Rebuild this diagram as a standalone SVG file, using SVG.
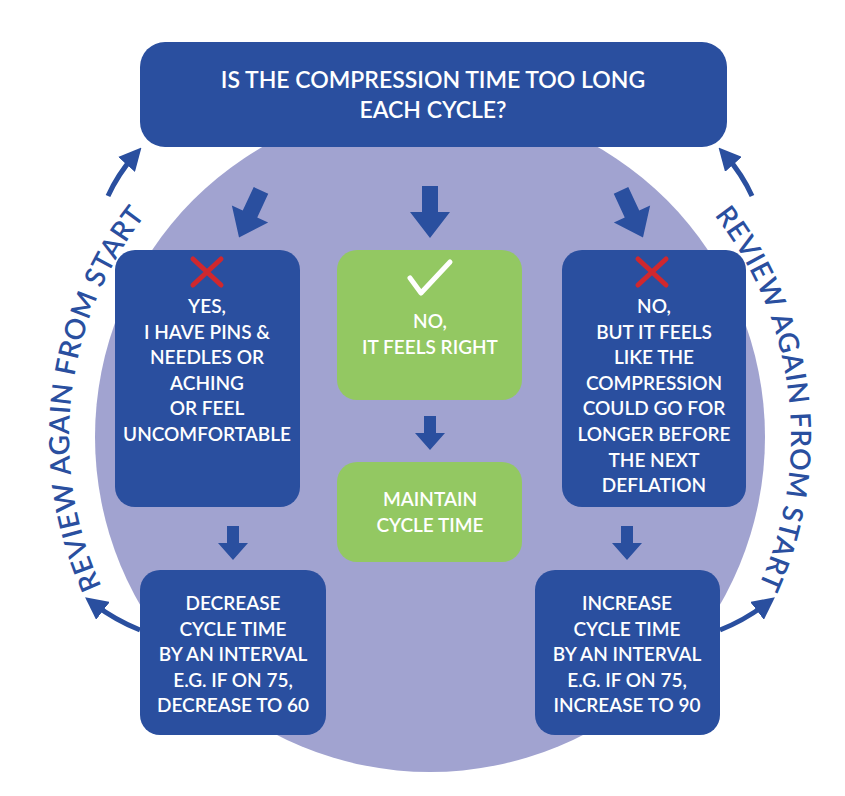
<svg xmlns="http://www.w3.org/2000/svg" width="845" height="796" viewBox="0 0 845 796">
<defs>
<style>
.b{fill:#2a4f9f}.g{fill:#93c862}
.t{font-family:Lato,"Open Sans",sans-serif;font-size:19px;font-weight:600;fill:#fff;text-anchor:middle}
.h{font-size:23px}
.c{font-family:Lato,"Open Sans",sans-serif;font-size:28px;font-weight:600;fill:#2a4f9f;letter-spacing:0.6px}
.ln{stroke:#2a4f9f;stroke-width:5;fill:none}
</style>
<marker id="ah" viewBox="0 0 10 10" refX="5" refY="5" markerWidth="4.5" markerHeight="4.5" orient="auto"><path d="M0,0L10,5L0,10Z" fill="#2a4f9f"/></marker>
<path id="big" d="M-8,-26H8V0H20L0,26L-20,0H-8Z" fill="#2a4f9f"/>
<path id="sm" d="M-6,-17H6V0H15L0,17L-15,0H-6Z" fill="#2a4f9f"/>
<path id="lp" d="M175,692A360,360 0 0 1 175,182"/>
<path id="rp" d="M685,182A360,360 0 0 1 685,692"/>
</defs>
<rect width="845" height="796" fill="#fff"/>
<circle cx="430" cy="437" r="335" fill="#a1a3d0"/>
<g id="connectors">
<use href="#big" transform="translate(250,214) rotate(25)"/>
<use href="#big" x="430" y="212"/>
<use href="#big" transform="translate(632,214) rotate(-25)"/>
<use href="#sm" x="233" y="543"/>
<use href="#sm" x="430" y="433"/>
<use href="#sm" x="627" y="543"/>
<path class="ln" d="M108,196Q118,174 134,156" marker-end="url(#ah)"/>
<path class="ln" d="M140,630Q115,620 94,604" marker-end="url(#ah)"/>
<path class="ln" d="M752,196Q742,174 726,156" marker-end="url(#ah)"/>
<path class="ln" d="M720,630Q745,620 766,604" marker-end="url(#ah)"/>
</g>
<text class="c"><textPath href="#lp" startOffset="57.5%" text-anchor="middle">REVIEW AGAIN FROM START</textPath></text>
<text class="c"><textPath href="#rp" startOffset="42.5%" text-anchor="middle">REVIEW AGAIN FROM START</textPath></text>
<g id="header"><rect class="b" x="140" y="42" width="587" height="105" rx="25"/>
<text class="t h" x="433" y="88">IS THE COMPRESSION TIME TOO LONG</text>
<text class="t h" x="433" y="118">EACH CYCLE?</text></g>
<g id="yes"><rect class="b" x="115" y="250" width="185" height="257" rx="20"/>
<path d="M193,259L221,285M221,259L193,285" stroke="#d0282e" stroke-width="5" stroke-linecap="round"/>
<text class="t" x="207" y="313">YES,<tspan x="207" dy="25.6">I HAVE PINS &amp;</tspan><tspan x="207" dy="25.6">NEEDLES OR</tspan><tspan x="207" dy="25.6">ACHING</tspan><tspan x="207" dy="25.6">OR FEEL</tspan><tspan x="207" dy="25.6">UNCOMFORTABLE</tspan></text></g>
<g id="right"><rect class="g" x="337" y="250" width="185" height="150" rx="20"/>
<path d="M410,278L421,293L450,262" stroke="#fff" stroke-width="5" fill="none" stroke-linecap="round" stroke-linejoin="round"/>
<text class="t" x="430" y="328">NO,<tspan x="430" dy="25.6">IT FEELS RIGHT</tspan></text></g>
<g id="maintain"><rect class="g" x="337" y="462" width="185" height="100" rx="20"/>
<text class="t" x="430" y="506">MAINTAIN<tspan x="430" dy="25.6">CYCLE TIME</tspan></text></g>
<g id="no"><rect class="b" x="562" y="250" width="184" height="257" rx="20"/>
<path d="M638,259L666,285M666,259L638,285" stroke="#d0282e" stroke-width="5" stroke-linecap="round"/>
<text class="t" x="654" y="313">NO,<tspan x="654" dy="25.6">BUT IT FEELS</tspan><tspan x="654" dy="25.6">LIKE THE</tspan><tspan x="654" dy="25.6">COMPRESSION</tspan><tspan x="654" dy="25.6">COULD GO FOR</tspan><tspan x="654" dy="25.6">LONGER BEFORE</tspan><tspan x="654" dy="25.6">THE NEXT</tspan><tspan x="654" dy="25.6">DEFLATION</tspan></text></g>
<g id="decrease"><rect class="b" x="140" y="570" width="186" height="165" rx="20"/>
<text class="t" x="233" y="610">DECREASE<tspan x="233" dy="25.6">CYCLE TIME</tspan><tspan x="233" dy="25.6">BY AN INTERVAL</tspan><tspan x="233" dy="25.6">E.G. IF ON 75,</tspan><tspan x="233" dy="25.6">DECREASE TO 60</tspan></text></g>
<g id="increase"><rect class="b" x="535" y="570" width="185" height="165" rx="20"/>
<text class="t" x="627" y="610">INCREASE<tspan x="627" dy="25.6">CYCLE TIME</tspan><tspan x="627" dy="25.6">BY AN INTERVAL</tspan><tspan x="627" dy="25.6">E.G. IF ON 75,</tspan><tspan x="627" dy="25.6">INCREASE TO 90</tspan></text></g>
</svg>
